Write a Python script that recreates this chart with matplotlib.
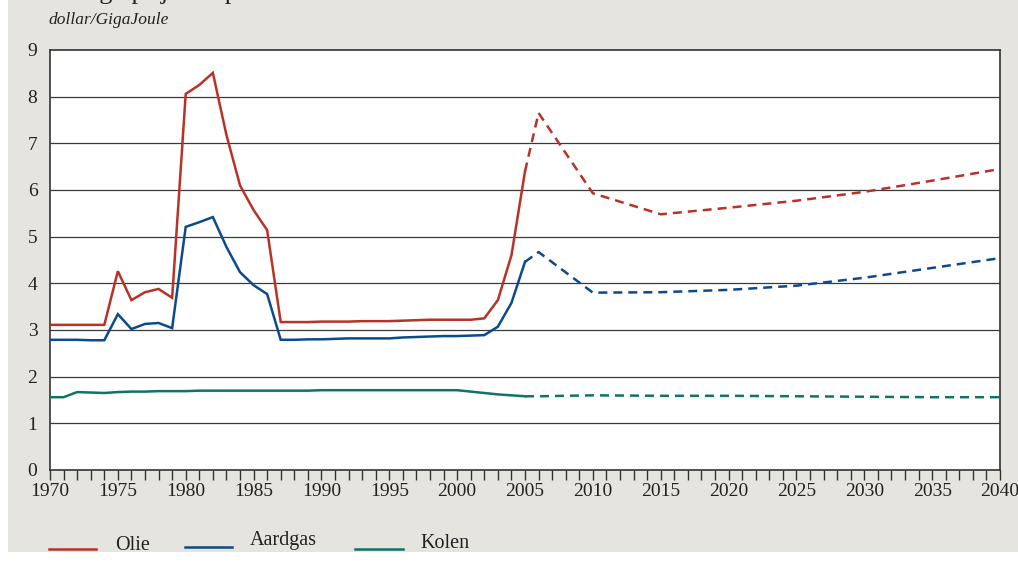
import matplotlib
matplotlib.use("Agg")
import matplotlib.pyplot as plt
from matplotlib.lines import Line2D
from matplotlib.patches import Rectangle

# Historical data (solid)
hist_years = list(range(1970, 2006))
olie_hist = [3.11, 3.11, 3.11, 3.11, 3.11, 4.26, 3.64, 3.81, 3.88, 3.69,
             8.06, 8.25, 8.51, 7.18, 6.10, 5.57, 5.14, 3.17, 3.17, 3.17,
             3.18, 3.18, 3.18, 3.19, 3.19, 3.19, 3.20, 3.21, 3.22, 3.22,
             3.22, 3.22, 3.25, 3.64, 4.60, 6.40]
aardgas_hist = [2.79, 2.79, 2.79, 2.78, 2.78, 3.34, 3.02, 3.13, 3.15, 3.04,
                5.21, 5.31, 5.42, 4.78, 4.24, 3.96, 3.77, 2.79, 2.79, 2.80,
                2.80, 2.81, 2.82, 2.82, 2.82, 2.82, 2.84, 2.85, 2.86, 2.87,
                2.87, 2.88, 2.89, 3.07, 3.58, 4.46]
kolen_hist = [1.56, 1.56, 1.67, 1.66, 1.65, 1.67, 1.68, 1.68, 1.69, 1.69,
              1.69, 1.70, 1.70, 1.70, 1.70, 1.70, 1.70, 1.70, 1.70, 1.70,
              1.71, 1.71, 1.71, 1.71, 1.71, 1.71, 1.71, 1.71, 1.71, 1.71,
              1.71, 1.68, 1.65, 1.62, 1.60, 1.58]

# Projections (dashed)
proj_years = [2005, 2006, 2010, 2015, 2020, 2025, 2030, 2035, 2040]
olie_proj = [6.40, 7.65, 5.93, 5.48, 5.62, 5.77, 5.96, 6.20, 6.45]
aardgas_proj = [4.46, 4.67, 3.80, 3.81, 3.86, 3.95, 4.12, 4.33, 4.54]
kolen_proj = [1.58, 1.58, 1.60, 1.59, 1.59, 1.58, 1.57, 1.56, 1.56]

series_names = ["Olie", "Aardgas", "Kolen"]
colors = ["#b83227", "#0b4a8c", "#0d7466"]

xticks = list(range(1970, 2041, 5))
yticks = list(range(0, 10))

plt.rcParams['font.family'] = ['Liberation Serif', 'DejaVu Serif']

W, H = 1018, 562
fig = plt.figure(figsize=(W / 100, H / 100), dpi=100)
fig.patch.set_facecolor("white")
fig.patches.append(Rectangle((8 / W, 1 - 552 / H), 1 - 8 / W, 552 / H,
                             transform=fig.transFigure, facecolor="#e5e4df",
                             edgecolor="none", zorder=-10))

ax = fig.add_axes([50 / W, 1 - 470 / H, 950 / W, 420 / H])
ax.set_facecolor("white")

for name, c, yh, yp in zip(series_names, colors,
                           [olie_hist, aardgas_hist, kolen_hist],
                           [olie_proj, aardgas_proj, kolen_proj]):
    ax.plot(hist_years, yh, color=c, lw=1.8, solid_joinstyle="miter", zorder=3)
    ax.plot(proj_years, yp, color=c, lw=1.8, dashes=(3.6, 2.4), zorder=3)

ax.set_xlim(1970, 2040)
ax.set_ylim(0, 9)
ax.set_yticks(yticks)
ax.set_yticklabels([str(v) for v in yticks])
ax.set_xticks(xticks)
ax.set_xticklabels([str(v) for v in xticks])
ax.set_xticks(list(range(1970, 2041)), minor=True)
for y in range(1, 9):
    ax.axhline(y, color="#3a3a3a", lw=0.9, zorder=1)

for s in ax.spines.values():
    s.set_color("#333333")
    s.set_linewidth(1.2)

ax.tick_params(axis="x", which="both", direction="out", length=7, width=1,
               color="#333333", labelsize=14, pad=2, labelcolor="#222222")
ax.tick_params(axis="y", which="both", length=0, labelsize=14, pad=9,
               labelcolor="#222222")

fig.text(48 / W, 1 - 20 / H, "dollar/GigaJoule", style="italic", fontsize=12.5,
         va="center", ha="left", color="#222222")
fig.text(50 / W, 1 + 1 / H, "Energieprijzen op de wereldmarkt", fontsize=19,
         va="baseline", ha="left", color="#222222")

# Legend (manual)
leg = [(49, 96, 549, 115, 546), (185, 232, 547, 250, 541), (355, 403, 549, 420, 544)]
for (x0, x1, yl, xt, yt), name, c in zip(leg, series_names, colors):
    fig.add_artist(Line2D([x0 / W, x1 / W], [1 - yl / H, 1 - yl / H],
                          transform=fig.transFigure, color=c, lw=1.8))
    fig.text(xt / W, 1 - yt / H, name, fontsize=14.5, va="center", ha="left",
             color="#222222")

fig.savefig("out.png", dpi=100)
